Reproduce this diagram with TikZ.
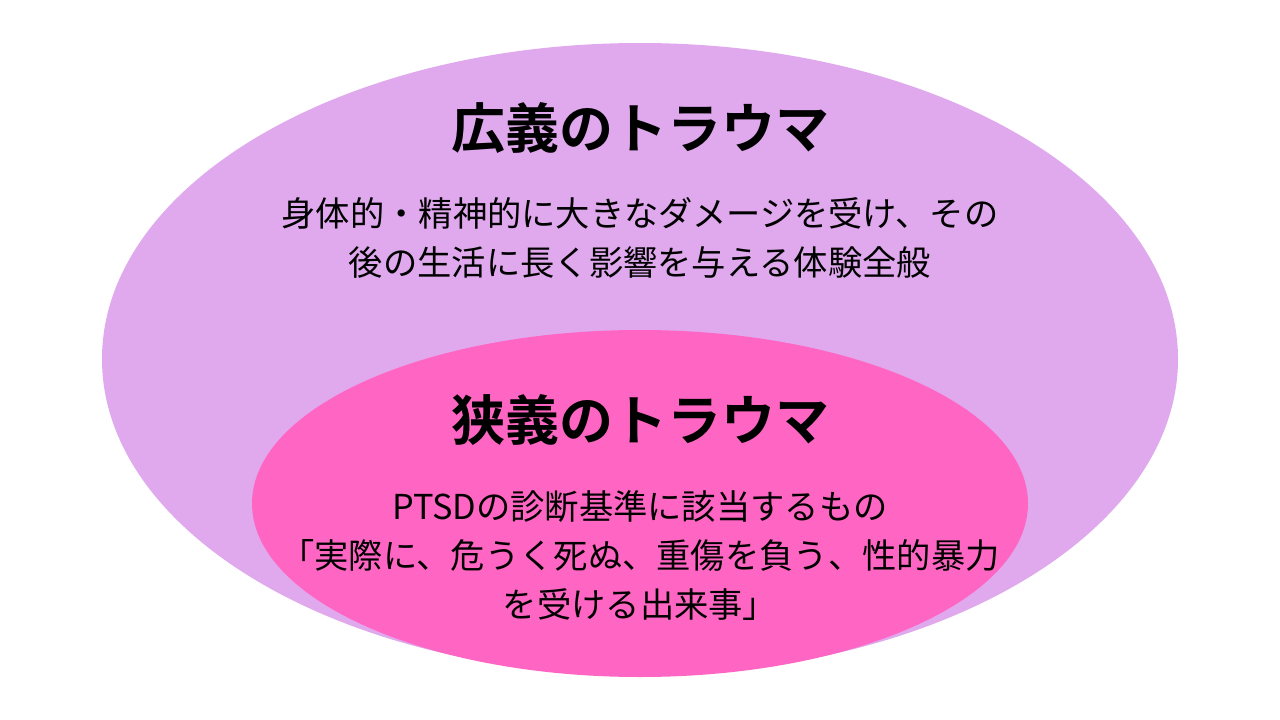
\documentclass[tikz,border=0pt]{standalone}
\usepackage{fontspec}
\setmainfont{Noto Sans CJK JP}
\newfontfamily\jpbold{Noto Sans CJK JP Bold}
\definecolor{outerc}{HTML}{E0A9EE}
\definecolor{innerc}{HTML}{FF66C4}
\tikzset{
  titletext/.style={font=\jpbold\fontsize{54}{60}\selectfont, text=black, inner sep=0pt},
  bodytext/.style={font=\fontsize{34.3}{49}\selectfont, text=black, align=center, inner sep=0pt}
}
\begin{document}
\begin{tikzpicture}[x=1pt,y=-1pt]
\useasboundingbox[fill=white] (0,0) rectangle (1280,720);
\fill[outerc] (640,359) ellipse [x radius=538, y radius=316];
\fill[innerc] (640,503.5) ellipse [x radius=388, y radius=173.5];
\node[titletext] (wide) at (640,128) {広義のトラウマ};
\node[bodytext] (widedesc) at (640,237.5) {身体的・精神的に大きなダメージを受け、その\\後の生活に長く影響を与える体験全般};
\node[titletext] (narrow) at (640,420) {狭義のトラウマ};
\node[bodytext] (narrowdesc) at (640,555.5) {PTSDの診断基準に該当するもの\\「実際に、危うく死ぬ、重傷を負う、性的暴力\\を受ける出来事」};
\end{tikzpicture}
\end{document}
